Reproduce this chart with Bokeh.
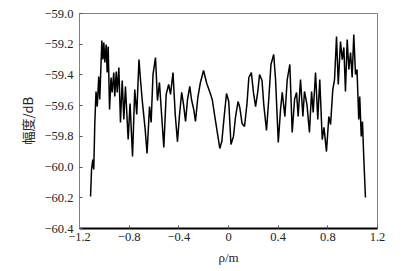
from bokeh.plotting import figure
from bokeh.models import CustomJSTickFormatter, FixedTicker
from bokeh.embed import file_html
from bokeh.resources import INLINE

rho = [-1.111, -1.103, -1.093, -1.085, -1.077, -1.067, -1.057, -1.045, -1.037, -1.020,
       -1.012, -1.004, -0.996, -0.985, -0.977, -0.969, -0.958, -0.946, -0.937, -0.924,
       -0.916, -0.904, -0.896, -0.883, -0.870, -0.856, -0.843, -0.830, -0.808, -0.793,
       -0.773, -0.755, -0.739, -0.721, -0.709, -0.693, -0.671, -0.656, -0.636, -0.623,
       -0.608, -0.588, -0.572, -0.556, -0.540, -0.521, -0.502, -0.482, -0.467, -0.447,
       -0.429, -0.411, -0.395, -0.377, -0.362, -0.346, -0.330, -0.312, -0.298, -0.280,
       -0.266, -0.247, -0.228, -0.201, -0.175, -0.149, -0.131, -0.110, -0.089, -0.070,
       -0.054, -0.034, -0.016, 0.002, 0.020, 0.040, 0.056, 0.077, 0.091, 0.109,
       0.129, 0.149, 0.164, 0.184, 0.201, 0.218, 0.236, 0.250, 0.270, 0.284,
       0.306, 0.324, 0.342, 0.364, 0.379, 0.401, 0.419, 0.433, 0.454, 0.473,
       0.494, 0.513, 0.532, 0.548, 0.561, 0.580, 0.599, 0.612, 0.632, 0.652,
       0.669, 0.682, 0.701, 0.719, 0.735, 0.755, 0.769, 0.789, 0.808, 0.822,
       0.840, 0.854, 0.870, 0.884, 0.902, 0.916, 0.929, 0.942, 0.956, 0.969,
       0.983, 0.996, 1.009, 1.023, 1.035, 1.049, 1.057, 1.069, 1.079, 1.090, 1.103]

amp = [-60.192, -60.016, -59.951, -60.016, -59.723, -59.508, -59.606, -59.410, -59.560, -59.176,
       -59.300, -59.189, -59.319, -59.202, -59.384, -59.215, -59.625, -59.417, -59.514, -59.384,
       -59.540, -59.378, -59.514, -59.352, -59.710, -59.436, -59.690, -59.475, -59.821, -59.586,
       -59.931, -59.495, -59.658, -59.300, -59.430, -59.580, -59.755, -59.912, -59.606, -59.710,
       -59.397, -59.287, -59.567, -59.449, -59.645, -59.873, -59.527, -59.462, -59.527, -59.384,
       -59.658, -59.834, -59.664, -59.514, -59.593, -59.703, -59.560, -59.475, -59.560, -59.625,
       -59.703, -59.547, -59.456, -59.371, -59.456, -59.514, -59.560, -59.671, -59.781, -59.879,
       -59.834, -59.664, -59.521, -59.573, -59.853, -59.801, -59.677, -59.573, -59.612, -59.716,
       -59.736, -59.586, -59.417, -59.384, -59.514, -59.606, -59.508, -59.397, -59.436, -59.593,
       -59.762, -59.560, -59.332, -59.267, -59.430, -59.840, -59.625, -59.514, -59.671, -59.430,
       -59.332, -59.775, -59.560, -59.514, -59.671, -59.430, -59.671, -59.508, -59.593, -59.775,
       -59.508, -59.645, -59.384, -59.690, -59.430, -59.821, -59.742, -59.899, -59.671, -59.723,
       -59.495, -59.430, -59.150, -59.462, -59.182, -59.300, -59.221, -59.508, -59.169, -59.365,
       -59.254, -59.417, -59.137, -59.397, -59.365, -59.690, -59.540, -59.801, -59.703, -59.951, -60.198]

x_ticks = [-1.2, -0.8, -0.4, 0, 0.4, 0.8, 1.2]
y_ticks = [-60.4, -60.2, -60.0, -59.8, -59.6, -59.4, -59.2, -59.0]

p = figure(width=398, height=268, x_range=(-1.2, 1.2), y_range=(-60.4, -59.0),
           output_backend="svg", toolbar_location=None,
           min_border_left=79, min_border_right=21, min_border_top=13, min_border_bottom=40)

p.line(rho, amp, line_color="black", line_width=1.5)

p.grid.visible = False
p.outline_line_color = "#808080"
p.outline_line_width = 1
p.background_fill_color = "white"
p.border_fill_color = "white"

p.xaxis.ticker = FixedTicker(ticks=x_ticks)
p.yaxis.ticker = FixedTicker(ticks=y_ticks)
p.xaxis.formatter = CustomJSTickFormatter(code="""
    if (Math.abs(tick) < 1e-9) return '0';
    return tick.toFixed(1).replace('-', '\u2212');
""")
p.yaxis.formatter = CustomJSTickFormatter(code="""
    return tick.toFixed(1).replace('-', '\u2212');
""")

for ax in (p.xaxis, p.yaxis):
    ax.major_tick_in = 3
    ax.major_tick_out = 0
    ax.minor_tick_line_color = None
    ax.major_label_text_font = "Liberation Serif"
    ax.major_label_text_font_size = "12.5px"
    ax.major_label_text_color = "#222222"
    ax.axis_label_text_font_style = "normal"
    ax.axis_label_text_color = "#222222"

p.xaxis.axis_line_color = "black"
p.xaxis.axis_line_width = 2
p.xaxis.major_tick_line_color = "#555555"
p.yaxis.axis_line_color = "#808080"
p.yaxis.axis_line_width = 1
p.yaxis.major_tick_line_color = "#555555"

p.xaxis.major_label_standoff = 4
p.yaxis.major_label_standoff = 6

p.xaxis.axis_label = "ρ/m"
p.xaxis.axis_label_text_font = "Liberation Serif"
p.xaxis.axis_label_text_font_size = "13px"
p.xaxis.axis_label_standoff = 6

p.yaxis.axis_label = "幅度/dB"
p.yaxis.axis_label_text_font = "Noto Sans CJK SC"
p.yaxis.axis_label_text_font_size = "13px"
p.yaxis.axis_label_standoff = 5

open("out.html", "w").write(file_html(p, INLINE))
